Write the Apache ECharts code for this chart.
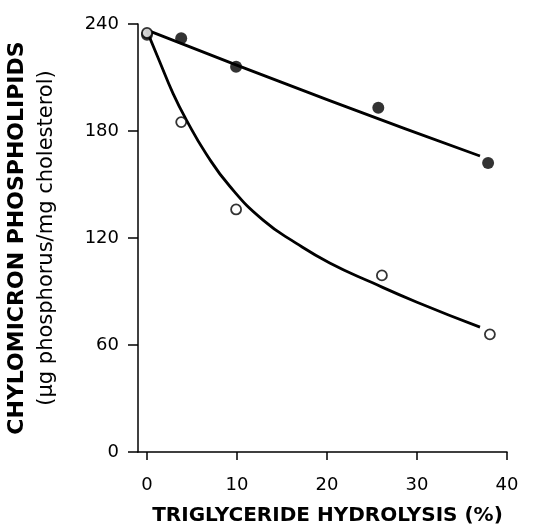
<!DOCTYPE html>
<html>
<head>
<meta charset="utf-8">
<script src="https://cdn.jsdelivr.net/npm/echarts@6/dist/echarts.min.js"></script>
<style>
  html, body { margin: 0; padding: 0; background: #fff; }
  #chart { width: 538px; height: 528px; }
</style>
</head>
<body>
<div id="chart"></div>
<script>
// measured points
var filledPts = [[0, 234], [3.8, 232], [9.9, 216], [25.7, 193], [37.9, 162]];
var openPts = [[0, 235], [3.8, 185], [9.9, 136], [26.1, 99], [38.1, 66]];

// fitted lines
var filledFit = [[-0.2, 237], [20.3, 197], [37, 166]];
var openFit = [[0, 236], [1.4, 219], [2.9, 201], [4.4, 186], [6.6, 167], [9.2, 149],
  [12.9, 130], [16.6, 117], [20.3, 106], [25, 95], [30, 84], [37, 70]];

var xTicks = [0, 10, 20, 30, 40];

var CHART;
var CHART_OPTION = {
  backgroundColor: '#fff',
  animation: false,
  grid: {
    left: 138,
    right: 31,
    top: 24,
    bottom: 76,
    outerBoundsMode: 'none',
    containLabel: false
  },
  xAxis: {
    type: 'value',
    min: -1,
    max: 40,
    interval: 1,
    name: 'TRIGLYCERIDE HYDROLYSIS (%)',
    nameLocation: 'middle',
    nameGap: 54,
    nameTextStyle: { fontFamily: 'DejaVu Sans', fontWeight: 'bold', fontSize: 20, color: '#000', padding: [0, 0, 0, 10] },
    axisLine: { onZero: false, lineStyle: { color: '#000', width: 1.5 } },
    axisTick: {
      show: true, length: 8, lineStyle: { color: '#000', width: 1.5 },
      customValues: xTicks
    },
    axisLabel: {
      customValues: xTicks,
      margin: 24,
      fontFamily: 'DejaVu Sans', fontSize: 18, color: '#000'
    },
    splitLine: { show: false }
  },
  yAxis: {
    type: 'value',
    min: 0,
    max: 240,
    interval: 60,
    name: '{a|CHYLOMICRON PHOSPHOLIPIDS}\n{b|(μg phosphorus/mg cholesterol)}',
    nameLocation: 'middle',
    nameRotate: 90,
    nameGap: 76,
    nameTextStyle: {
      rich: {
        a: { fontFamily: 'DejaVu Sans', fontWeight: 'bold', fontSize: 22, color: '#000', lineHeight: 30 },
        b: { fontFamily: 'DejaVu Sans', fontSize: 21, color: '#000', lineHeight: 30 }
      }
    },
    axisLine: { show: true, onZero: false, lineStyle: { color: '#000', width: 1.5 } },
    axisTick: { show: true, length: 10, lineStyle: { color: '#000', width: 1.5 } },
    axisLabel: { margin: 19, fontFamily: 'DejaVu Sans', fontSize: 18, color: '#000' },
    splitLine: { show: false }
  },
  series: [
    {
      name: 'filledFit',
      type: 'line',
      data: filledFit,
      smooth: true,
      showSymbol: false,
      lineStyle: { color: '#000', width: 2.8 },
      z: 2
    },
    {
      name: 'openFit',
      type: 'line',
      data: openFit,
      smooth: true,
      showSymbol: false,
      lineStyle: { color: '#000', width: 2.8 },
      z: 2
    },
    {
      name: 'filled',
      type: 'scatter',
      data: filledPts,
      symbolSize: 12,
      itemStyle: { color: '#000' },
      z: 3
    },
    {
      name: 'open',
      type: 'scatter',
      data: openPts,
      symbolSize: 10,
      itemStyle: { color: '#fff', borderColor: '#000', borderWidth: 1.8 },
      z: 4
    }
  ]
};

window.onload = _ => {
  CHART = echarts.init(document.getElementById('chart'), null, { renderer: 'canvas' });
  CHART.setOption(CHART_OPTION);
};
</script>
</body>
</html>
